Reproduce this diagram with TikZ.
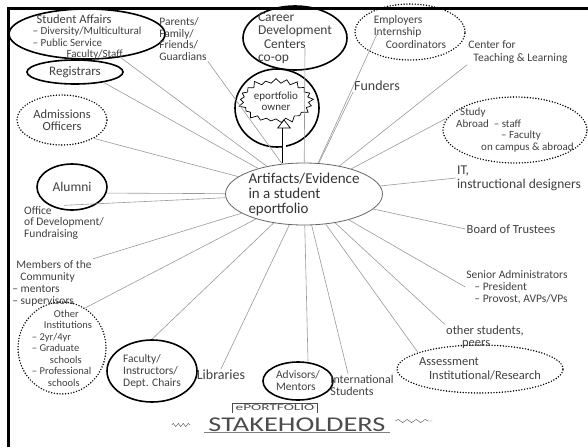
\documentclass[tikz,border=0pt]{standalone}
\usepackage{fontspec}
\setmainfont{Carlito}
\usetikzlibrary{arrows.meta,positioning,shapes.geometric,shapes.symbols,decorations.pathmorphing}

\begin{document}
\begin{tikzpicture}[
  x=1pt, y=-1pt,
  >=Latex,
  font=\fontsize{11.5}{11.5}\selectfont,
  hub/.style={draw=black!60, line width=0.8pt, ellipse, minimum width=144pt, minimum height=62pt, inner sep=0pt, align=left, text=black!80, font=\fontsize{15}{15}\selectfont},
  ring/.style={draw, line width=1.6pt, ellipse, inner sep=0pt},
  dotring/.style={draw, line width=1.6pt, line cap=round, dash pattern=on 0pt off 2.8pt, ellipse, inner sep=0pt},
  who/.style={align=left, inner sep=1pt, text=black!75},
  spoke/.style={draw=black!40, line width=0.6pt},
  burst/.style={draw, starburst, starburst points=21, starburst point height=6pt, line width=0.7pt, align=center, inner sep=1pt, font=\fontsize{11}{11.5}\selectfont, text=black!80}
]
\useasboundingbox (0,0) rectangle (588,447);
\draw[line width=3pt] (8.5,447) -- (8.5,8) -- (588,8);

\node[hub] (hub) at (304,194) {Artifacts/Evidence\\in a student\\eportfolio};

% left side
\node[ring, minimum width=156pt, minimum height=50pt,
  label={[who, font=\fontsize{11}{11.5}\selectfont, yshift=-3pt]center:{\hspace{4pt}{\fontsize{12.5}{11.5}\selectfont Student Affairs}\\– Diversity/Multicultural\\– Public Service\\\hspace{34pt}Faculty/Staff}}] (sa) at (87,34) {};
\node[who] (par) at (183,39) {Parents/\\Family/\\Friends/\\Guardians};
\node[ring, minimum width=96pt, minimum height=24pt,
  label={[who, font=\fontsize{13}{13}\selectfont]center:Registrars}] (reg) at (75,72) {};
\node[dotring, minimum width=90pt, minimum height=50pt,
  label={[who, align=center, font=\fontsize{12.5}{12}\selectfont]center:{Admissions\\Officers}}] (adm) at (62,120) {};
\node[ring, minimum width=70pt, minimum height=46pt,
  label={[who, font=\fontsize{13.5}{13}\selectfont]center:Alumni}] (alu) at (72,187) {};
\node[who, font=\fontsize{11.5}{11.5}\selectfont] (dev) at (64,223) {Office\\of Development/\\Fundraising};
\node[who, font=\fontsize{11.5}{12}\selectfont] (com) at (52,283) {\hspace{4pt}Members of the\\\hspace{8pt}Community\\– mentors\\– supervisors};
\node[dotring, minimum width=88pt, minimum height=92pt,
  label={[who, font=\fontsize{10.5}{11.5}\selectfont]center:{\hspace{22pt}Other\\\hspace{12pt}Institutions\\– 2yr/4yr\\– Graduate\\\hspace{18pt}schools\\– Professional\\\hspace{16pt}schools}}] (oth) at (62,348) {};

% bottom
\node[ring, minimum width=90pt, minimum height=62pt,
  label={[who, font=\fontsize{11.5}{12}\selectfont]center:{Faculty/\\Instructors/\\Dept. Chairs}}] (fac) at (152,371) {};
\node[who, font=\fontsize{14}{14}\selectfont] (lib) at (221,375) {Libraries};
\node[ring, minimum width=70pt, minimum height=38pt,
  label={[who, font=\fontsize{11.5}{12}\selectfont]center:{Advisors/\\Mentors}}] (adv) at (298,381) {};
\node[who, font=\fontsize{12}{12}\selectfont] (intl) at (362,385) {International\\Students};
\node[dotring, minimum width=166pt, minimum height=48pt,
  label={[who, font=\fontsize{12.5}{14}\selectfont]center:{Assessment\\\hspace{10pt}Institutional/Research}}] (ass) at (480,369) {};

% right side
\node[who, font=\fontsize{12.5}{12}\selectfont] (ots) at (485,337) {other students,\\\hspace{16pt}peers};
\node[who, font=\fontsize{11.5}{12}\selectfont] (sen) at (517,287) {Senior Administrators\\\hspace{8pt}– President\\\hspace{8pt}– Provost, AVPs/VPs};
\node[who, font=\fontsize{12.5}{12}\selectfont] (bot) at (511,229) {Board of Trustees};
\node[who, font=\fontsize{13.5}{14}\selectfont] (it) at (519,178) {IT,\\instructional designers};
\node[dotring, minimum width=144pt, minimum height=66pt,
  label={[who, font=\fontsize{11}{11.5}\selectfont]center:{\hspace{4pt}Study\\Abroad \ – staff\\\hspace{45pt}– Faculty\\\hspace{25pt}on campus \& abroad}}] (sab) at (515,130) {};
\node[who, font=\fontsize{11.5}{13}\selectfont] (ctl) at (518,52) {Center for\\\hspace{5pt}Teaching \& Learning};
\node[who, font=\fontsize{14}{14}\selectfont] (fun) at (377,86) {Funders};
\node[dotring, minimum width=110pt, minimum height=56pt,
  label={[who, font=\fontsize{11.5}{12.5}\selectfont]center:{Employers\\Internship\\\hspace{12pt}Coordinators}}] (emp) at (410,32) {};

% top centre
\node[ring, minimum width=84pt, minimum height=78pt] (own) at (277,108) {};
\node[burst, minimum width=68pt, minimum height=48pt] (burst) at (276,101) {eportfolio\\owner};
\coordinate (tip) at ([xshift=8pt]burst.south);
\node[ring, minimum width=104pt, minimum height=64pt,
  label={[who, font=\fontsize{13.5}{13.5}\selectfont]center:{Career\\Development\\\hspace{6pt}Centers\\co-op}}] (car) at (295,38) {};

\draw[spoke] (sa.-35) -- (hub);
\draw[spoke] (par.south east) -- (hub);
\draw[spoke] (reg.-20) -- (hub);
\draw[spoke] (adm.-30) -- (hub);
\draw[spoke] (alu.-10) -- (hub);
\draw[spoke] (dev.north) -- (hub);
\draw[spoke] (com.north east) -- (hub);
\draw[spoke] (oth.60) -- (hub);
\draw[spoke] (fac.north) -- (hub);
\draw[spoke] (lib.north) -- (hub);
\draw[spoke] ([xshift=10pt]adv.north) -- (hub);
\draw[spoke] ([xshift=-14pt]intl.north) -- (hub);
\draw[spoke] (ass.165) -- (hub);
\draw[spoke] (ots.north west) -- (hub);
\draw[spoke] (sen.west) -- (hub);
\draw[spoke] (bot.west) -- (hub);
\draw[spoke] (it.west) -- (hub);
\draw[spoke] (sab.170) -- (hub);
\draw[spoke] (ctl.south west) -- (hub);
\draw[spoke] (fun.south west) -- (hub);
\draw[spoke] ([xshift=-32pt]emp.center) -- (hub);
\draw[spoke] ([shift={(10pt,-10pt)}]car.center) -- (hub);

\draw[double=white, double distance=3pt, line width=0.7pt, -{Triangle[open, length=9pt, width=14pt]}] (hub.north -| tip) -- (tip);

% title
\node[text=black!70, font=\fontsize{21}{21}\selectfont, xscale=1.35] (title) at (297,425) {STAKEHOLDERS};
\node[text=black!70, font=\fontsize{9}{9}\selectfont, xscale=1.7, inner sep=1.5pt] (ep) at (275,408) {ePORTFOLIO};
\draw[black!70, line width=0.7pt] (ep.south west) |- (ep.north east) -- (ep.south east);
\draw[black!50, line width=1pt] ([yshift=3pt]title.south west) -- ([yshift=3pt]title.south east);
\draw[black!70, decorate, decoration={snake, amplitude=1.6pt, segment length=5pt}] ([xshift=-32pt]title.west) -- ([xshift=-13pt]title.west);
\draw[black!70, decorate, decoration={snake, amplitude=1.6pt, segment length=9pt}] ([shift={(5pt,4pt)}]title.east) -- ([shift={(42pt,4pt)}]title.east);
\end{tikzpicture}
\end{document}
